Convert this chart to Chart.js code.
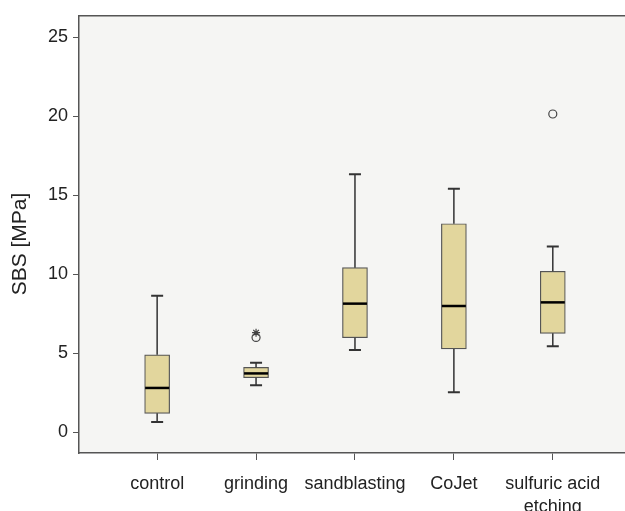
<!DOCTYPE html>
<html>
<head>
<meta charset="utf-8">
<script src="https://cdn.jsdelivr.net/npm/chart.js@4"></script>
<style>
  body { margin: 0; background: #fff; }
</style>
</head>
<body>
<canvas id="myChart" width="625" height="511"></canvas>
<script>
const ctx = document.getElementById("myChart").getContext("2d");

// box plot data
const labels = ['control', 'grinding', 'sandblasting', 'CoJet', ['sulfuric acid', 'etching']];
const whiskerLow = [0.65, 2.97, 5.21, 2.53, 5.44];
const q1 = [1.19, 3.45, 5.98, 5.27, 6.26];
const median = [2.8, 3.72, 8.14, 7.99, 8.22];
const q3 = [4.9, 4.1, 10.42, 13.2, 10.19];
const whiskerHigh = [8.64, 4.39, 16.34, 15.42, 11.76];
const outliers = [{ x: 1, y: 6.0 }, { x: 4, y: 20.15 }];
const extremes = [{ x: 1, y: 6.3 }];
const yTicks = [0, 5, 10, 15, 20, 25];
const yTitle = "SBS [MPa]";

const boxColor = "#e2d69d";
const lineColor = "#333";

const boxPlot = {
    id: "boxPlot",
    beforeDraw(chart) {
        const { ctx, chartArea: a } = chart;
        ctx.save();
        ctx.fillStyle = "#f5f5f3";
        ctx.fillRect(a.left, a.top, a.right - a.left, a.bottom - a.top);
        ctx.strokeStyle = "#555";
        ctx.lineWidth = 1.5;
        ctx.beginPath();
        ctx.moveTo(a.left, a.top);
        ctx.lineTo(a.right, a.top);
        ctx.stroke();
        // axis title, placed like the original (a bit below the middle)
        ctx.translate(20, 244);
        ctx.rotate(-Math.PI / 2);
        ctx.fillStyle = "#222";
        ctx.font = "21px 'Liberation Sans'";
        ctx.textAlign = "center";
        ctx.textBaseline = "middle";
        ctx.fillText(yTitle, 0, 0);
        ctx.restore();
    },
    afterDatasetsDraw(chart) {
        const { ctx, scales: { x, y } } = chart;
        ctx.save();
        ctx.strokeStyle = lineColor;
        labels.forEach((l, i) => {
            const cx = x.getPixelForValue(i);
            // whiskers
            ctx.lineWidth = 1.5;
            ctx.beginPath();
            ctx.moveTo(cx, y.getPixelForValue(q3[i]));
            ctx.lineTo(cx, y.getPixelForValue(whiskerHigh[i]));
            ctx.moveTo(cx, y.getPixelForValue(q1[i]));
            ctx.lineTo(cx, y.getPixelForValue(whiskerLow[i]));
            ctx.stroke();
            ctx.lineWidth = 2;
            ctx.beginPath();
            ctx.moveTo(cx - 6, y.getPixelForValue(whiskerHigh[i]));
            ctx.lineTo(cx + 6, y.getPixelForValue(whiskerHigh[i]));
            ctx.moveTo(cx - 6, y.getPixelForValue(whiskerLow[i]));
            ctx.lineTo(cx + 6, y.getPixelForValue(whiskerLow[i]));
            ctx.stroke();
            // median
            ctx.strokeStyle = "#000";
            ctx.lineWidth = 2.5;
            ctx.beginPath();
            ctx.moveTo(cx - 12, y.getPixelForValue(median[i]));
            ctx.lineTo(cx + 12, y.getPixelForValue(median[i]));
            ctx.stroke();
            ctx.strokeStyle = lineColor;
        });
        ctx.restore();
    }
};

const data = {
    datasets: [
        {
            type: "bar",
            data: labels.map((l, i) => ({ x: i, y: [q1[i], q3[i]] })),
            backgroundColor: boxColor,
            borderColor: "#555",
            borderWidth: 1.2,
            borderSkipped: false,
            barThickness: 25,
        },
        {
            type: "scatter",
            data: outliers,
            pointStyle: "circle",
            radius: 4,
            borderWidth: 1.2,
            borderColor: "#444",
            backgroundColor: "rgba(0,0,0,0)",
        },
        {
            type: "scatter",
            data: extremes,
            pointStyle: "star",
            radius: 4,
            borderWidth: 1.2,
            borderColor: "#444",
        },
    ],
};

const config = {
    type: "bar",
    data: data,
    plugins: [boxPlot],
    options: {
        responsive: false,
        animation: false,
        layout: { autoPadding: false, padding: { top: 12, right: 0 } },
        plugins: { legend: { display: false }, tooltip: { enabled: false } },
        scales: {
            x: {
                type: "linear",
                offset: false,
                min: -0.79,
                max: 4.73,
                afterBuildTicks: (s) => { s.ticks = labels.map((l, i) => ({ value: i })); },
                afterFit: (s) => { s.height = 58; s.paddingRight = 0; s.paddingLeft = 0; },
                grid: { display: true, offset: false, drawOnChartArea: false, tickLength: 7, color: "#555" },
                border: { display: true, color: "#555", width: 1.5 },
                ticks: {
                    autoSkip: false,
                    maxRotation: 0,
                    padding: 12,
                    color: "#222",
                    font: { family: "Liberation Sans", size: 18, lineHeight: 1.3 },
                    callback: (v) => labels[v],
                },
            },
            y: {
                min: -1.32,
                max: 26.37,
                afterBuildTicks: (s) => { s.ticks = yTicks.map(v => ({ value: v })); },
                afterFit: (s) => { s.width = 79; },
                grid: { display: true, drawOnChartArea: false, tickLength: 6, color: "#555" },
                border: { display: true, color: "#555", width: 1.5 },
                ticks: {
                    padding: 5,
                    color: "#222",
                    font: { family: "Liberation Sans", size: 18 },
                },
            },
        },
    },
};

const myChart = new Chart(ctx, config);
</script>
</body>
</html>
